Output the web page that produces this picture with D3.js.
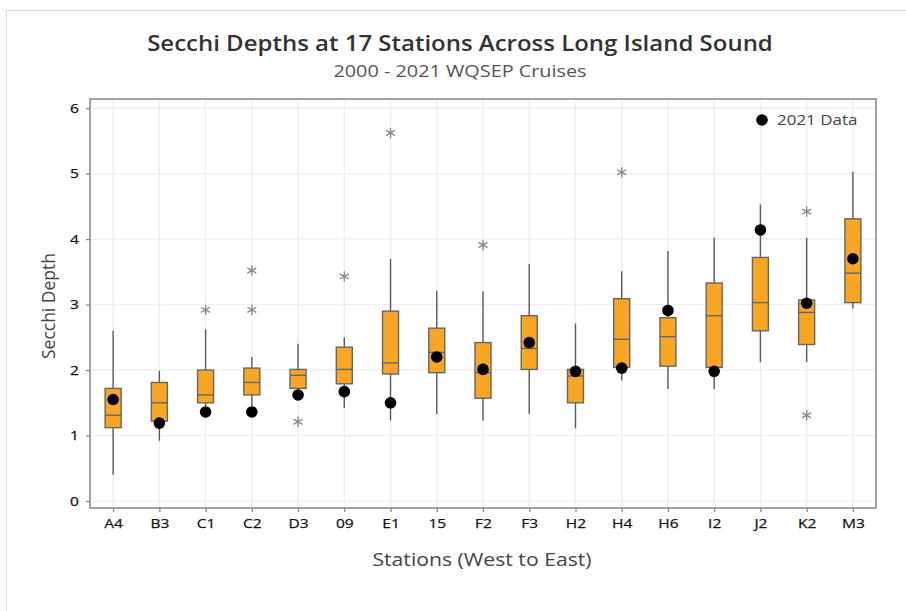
<!DOCTYPE html>
<html>
<head>
<meta charset="utf-8">
<script src="https://cdn.jsdelivr.net/npm/d3@7"></script>
<style>
  body { margin: 0; background: #fff; }
  svg { display: block; font-family: "Open Sans", "Noto Sans", sans-serif; }
</style>
</head>
<body>
<div class="chart"></div>
<script>
const stations = ["A4","B3","C1","C2","D3","09","E1","15","F2","F3","H2","H4","H6","I2","J2","K2","M3"];
const whiskerLow  = [0.40, 0.92, 1.27, 1.40, 1.55, 1.42, 1.23, 1.33, 1.23, 1.33, 1.11, 1.84, 1.71, 1.71, 2.12, 2.12, 2.94];
const q1          = [1.12, 1.22, 1.50, 1.62, 1.72, 1.79, 1.94, 1.96, 1.57, 2.01, 1.50, 2.04, 2.06, 2.04, 2.60, 2.39, 3.03];
const median      = [1.31, 1.50, 1.62, 1.81, 1.92, 2.01, 2.11, 2.27, 1.96, 2.33, 1.91, 2.47, 2.51, 2.83, 3.03, 2.88, 3.48];
const q3          = [1.72, 1.81, 2.00, 2.03, 2.01, 2.35, 2.90, 2.64, 2.42, 2.83, 2.01, 3.09, 2.80, 3.33, 3.72, 3.07, 4.31];
const whiskerHigh = [2.60, 1.99, 2.62, 2.20, 2.40, 2.50, 3.70, 3.21, 3.20, 3.62, 2.71, 3.51, 3.82, 4.02, 4.53, 4.02, 5.03];
const data2021    = [1.55, 1.19, 1.36, 1.36, 1.62, 1.67, 1.50, 2.20, 2.01, 2.42, 1.98, 2.03, 2.91, 1.98, 4.14, 3.02, 3.70];
// outliers as [station, value]
const outliers = [["C1",2.92],["C2",3.52],["C2",2.92],["D3",1.21],["09",3.43],["E1",5.62],["F2",3.91],["H4",5.02],["K2",4.42],["K2",1.31]];
const yTicks = [0,1,2,3,4,5,6];

const w = 906, h = 611;
const mLeft = 90, mRight = 876, mTop = 99, mBottom = 508;
const stretch = 1.24; // reference text is wider than it is tall

const svg = d3.select(".chart").append("svg")
  .attr("width", w).attr("height", h);

// widen text horizontally to match the reference
function widen(sel, k) {
  sel.each(function() {
    const len = this.getComputedTextLength();
    d3.select(this).attr("textLength", len * k).attr("lengthAdjust", "spacingAndGlyphs");
  });
  return sel;
}

// card border
svg.append("rect")
  .attr("x", 6.5).attr("y", 10.5).attr("width", w + 10).attr("height", h + 10)
  .attr("fill", "none").attr("stroke", "#dcdcdc");

const x = d3.scalePoint().domain(stations).range([mLeft, mRight]).padding(0.5);
const y = d3.scaleLinear().domain([-0.107, 6.14]).range([mBottom, mTop]);

// gridlines
svg.append("g").selectAll("line").data(yTicks).join("line")
  .attr("x1", mLeft).attr("x2", mRight)
  .attr("y1", d => y(d)).attr("y2", d => y(d))
  .attr("stroke", "#efefef").attr("stroke-width", 1.5);
svg.append("g").selectAll("line").data(stations).join("line")
  .attr("x1", d => x(d)).attr("x2", d => x(d))
  .attr("y1", mTop).attr("y2", mBottom)
  .attr("stroke", "#efefef").attr("stroke-width", 1.5);

// axes
const yAxis = svg.append("g").attr("transform", `translate(${mLeft},0)`)
  .call(d3.axisLeft(y).tickValues(yTicks).tickFormat(d3.format("d")).tickSize(4).tickPadding(7));
const xAxis = svg.append("g").attr("transform", `translate(0,${mBottom})`)
  .call(d3.axisBottom(x).tickSize(4).tickPadding(6));
[yAxis, xAxis].forEach(a => {
  a.select(".domain").remove();
  a.selectAll(".tick line").attr("stroke", "#888").attr("stroke-width", 1.3);
  a.selectAll(".tick text").attr("fill", "#111").style("font-size", "13.5px")
    .style("font-family", "'Open Sans', sans-serif")
    .attr("stroke", "#111").attr("stroke-width", 0.25);
  widen(a.selectAll(".tick text"), 1.15);
});

// frame
svg.append("rect")
  .attr("x", mLeft).attr("y", mTop).attr("width", mRight - mLeft).attr("height", mBottom - mTop)
  .attr("fill", "none").attr("stroke", "#8c8c8c").attr("stroke-width", 1.6);

const bw = 16;
const boxes = svg.append("g").selectAll("g").data(stations).join("g");

boxes.append("line")
  .attr("x1", d => x(d)).attr("x2", d => x(d))
  .attr("y1", (d, i) => y(whiskerLow[i])).attr("y2", (d, i) => y(whiskerHigh[i]))
  .attr("stroke", "#5a5a5a").attr("stroke-width", 1.4);

boxes.append("rect")
  .attr("x", d => x(d) - bw / 2).attr("width", bw)
  .attr("y", (d, i) => y(q3[i]))
  .attr("height", (d, i) => y(q1[i]) - y(q3[i]))
  .attr("fill", "#f8a624").attr("stroke", "#666").attr("stroke-width", 1.4);

boxes.append("line")
  .attr("x1", d => x(d) - bw / 2).attr("x2", d => x(d) + bw / 2)
  .attr("y1", (d, i) => y(median[i])).attr("y2", (d, i) => y(median[i]))
  .attr("stroke", "#666").attr("stroke-width", 1.4);

// outliers
const star = d3.symbol().type(d3.symbolAsterisk).size(75);
svg.append("g").selectAll("path").data(outliers).join("path")
  .attr("d", star)
  .attr("transform", d => `translate(${x(d[0])},${y(d[1])})`)
  .attr("fill", "none").attr("stroke", "#8a8a8a").attr("stroke-width", 1.4);

// 2021 data
svg.append("g").selectAll("circle").data(stations).join("circle")
  .attr("cx", d => x(d)).attr("cy", (d, i) => y(data2021[i]))
  .attr("r", 5.8).attr("fill", "#000");

// legend
svg.append("circle").attr("cx", 762).attr("cy", 120).attr("r", 5.8).attr("fill", "#000");
widen(svg.append("text").attr("x", 777).attr("y", 125)
  .attr("fill", "#444").style("font-size", "15px").text("2021 Data"), 1.13);

// titles
widen(svg.append("text").attr("x", 460).attr("y", 51).attr("text-anchor", "middle")
  .attr("fill", "#333").style("font-size", "22px").style("font-weight", 600)
  .text("Secchi Depths at 17 Stations Across Long Island Sound"), 1.09);
widen(svg.append("text").attr("x", 460).attr("y", 77).attr("text-anchor", "middle")
  .attr("fill", "#555").style("font-size", "16px")
  .text("2000 - 2021 WQSEP Cruises"), stretch);
widen(svg.append("text").attr("x", 482).attr("y", 566).attr("text-anchor", "middle")
  .attr("fill", "#444").style("font-size", "17.5px")
  .text("Stations (West to East)"), stretch - 0.03);
svg.append("text").attr("transform", "translate(55,306) rotate(-90)").attr("text-anchor", "middle")
  .attr("fill", "#444").style("font-size", "17.5px")
  .text("Secchi Depth");
</script>
</body>
</html>
